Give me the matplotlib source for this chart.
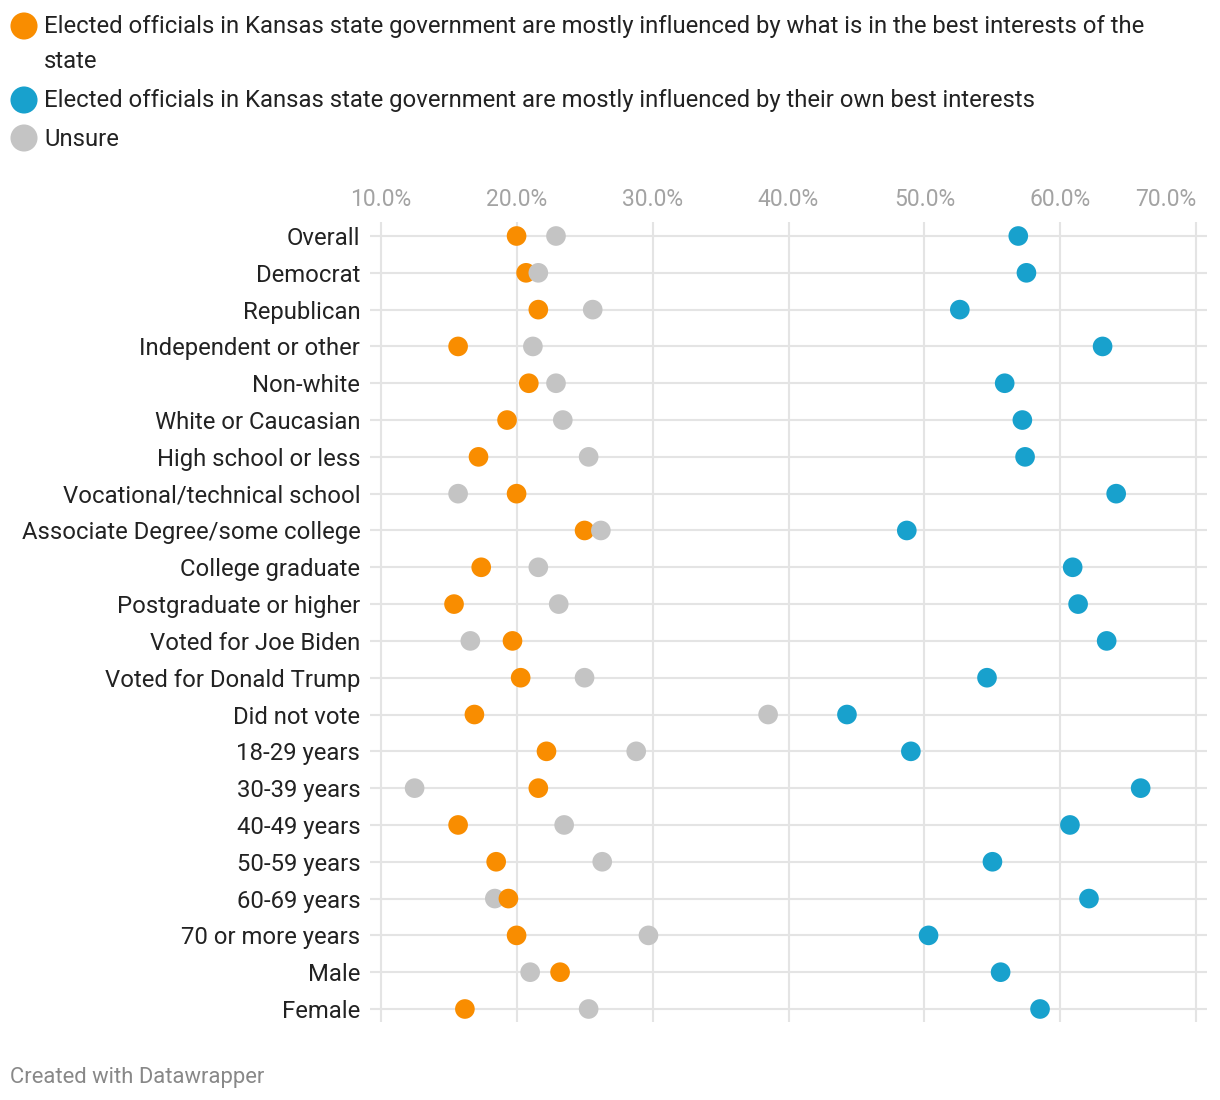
import numpy as np
import matplotlib
matplotlib.use("Agg")
import matplotlib.pyplot as plt

plt.rcParams['font.family'] = ['Roboto', 'DejaVu Sans']

# data (percent)
groups = ["Overall", "Democrat", "Republican", "Independent or other", "Non-white",
          "White or Caucasian", "High school or less", "Vocational/technical school",
          "Associate Degree/some college", "College graduate", "Postgraduate or higher",
          "Voted for Joe Biden", "Voted for Donald Trump", "Did not vote",
          "18-29 years", "30-39 years", "40-49 years", "50-59 years", "60-69 years",
          "70 or more years", "Male", "Female"]
state_interest = [20.0, 20.7, 21.6, 15.7, 20.9, 19.3, 17.2, 20.0, 25.0, 17.4, 15.4,
                  19.7, 20.3, 16.9, 22.2, 21.6, 15.7, 18.5, 19.4, 20.0, 23.2, 16.2]
own_interest = [56.9, 57.5, 52.6, 63.1, 55.9, 57.2, 57.4, 64.1, 48.7, 60.9, 61.3,
                63.4, 54.6, 44.3, 49.0, 65.9, 60.7, 55.0, 62.1, 50.3, 55.6, 58.5]
unsure = [22.9, 21.6, 25.6, 21.2, 22.9, 23.4, 25.3, 15.7, 26.2, 21.6, 23.1,
          16.6, 25.0, 38.5, 28.8, 12.5, 23.5, 26.3, 18.4, 29.7, 21.0, 25.3]
xticks = [10, 20, 30, 40, 50, 60, 70]

series = [
    ("Elected officials in Kansas state government are mostly influenced by what is in the best interests of the\nstate", state_interest, "#f98d00"),
    ("Elected officials in Kansas state government are mostly influenced by their own best interests", own_interest, "#18a1cd"),
    ("Unsure", unsure, "#c4c4c4"),
]

W, H = 1220, 1100
fig = plt.figure(figsize=(W / 100, H / 100), dpi=100)

# main plot area
ax = fig.add_axes([370 / W, 1 - 1022 / H, 837 / W, 800 / H])
y = np.arange(len(groups))
for name, vals, col in series:
    for i, v in enumerate(vals):
        # larger values drawn on top, as in the original
        ax.scatter(v, y[i], s=200, color=col, edgecolors="none", zorder=3 + v / 100)

ax.set_xlim(9.22, 70.78)
ax.set_ylim(21 + 13 / 36.8, -14 / 36.8)
ax.set_yticks(y)
ax.set_yticklabels(groups, fontsize=17.2, color="#222222")
ax.xaxis.tick_top()
ax.set_xticks(xticks)
ax.set_xticklabels(["%.1f%%" % t for t in xticks], fontsize=16.5, color="#a3a3a3")
ax.tick_params(axis="both", length=0)
ax.tick_params(axis="y", pad=7)
ax.tick_params(axis="x", pad=8)
# last tick label is right-aligned to its gridline
ax.xaxis.get_major_ticks()[-1].label2.set_horizontalalignment("right")
ax.grid(True, color="#e4e4e4", linewidth=1.5, zorder=0)
ax.set_axisbelow(True)
for sp in ax.spines.values():
    sp.set_visible(False)

# legend drawn in pixel coordinates
lg = fig.add_axes([0, 0, 1, 1], zorder=5)
lg.set_xlim(0, W)
lg.set_ylim(H, 0)
lg.axis("off")
leg_y = [26, 100, 138]
for (name, vals, col), ly in zip(series, leg_y):
    lg.scatter(24, ly, s=380, color=col, edgecolors="none")
    for k, line in enumerate(name.split("\n")):
        lg.text(44, ly + 1 + 34 * k, line, fontsize=17.2, color="#222222", va="center")

lg.text(10, 1077, "Created with Datawrapper", fontsize=15.8, color="#888888", va="center")

plt.savefig("out.png", dpi=100)
